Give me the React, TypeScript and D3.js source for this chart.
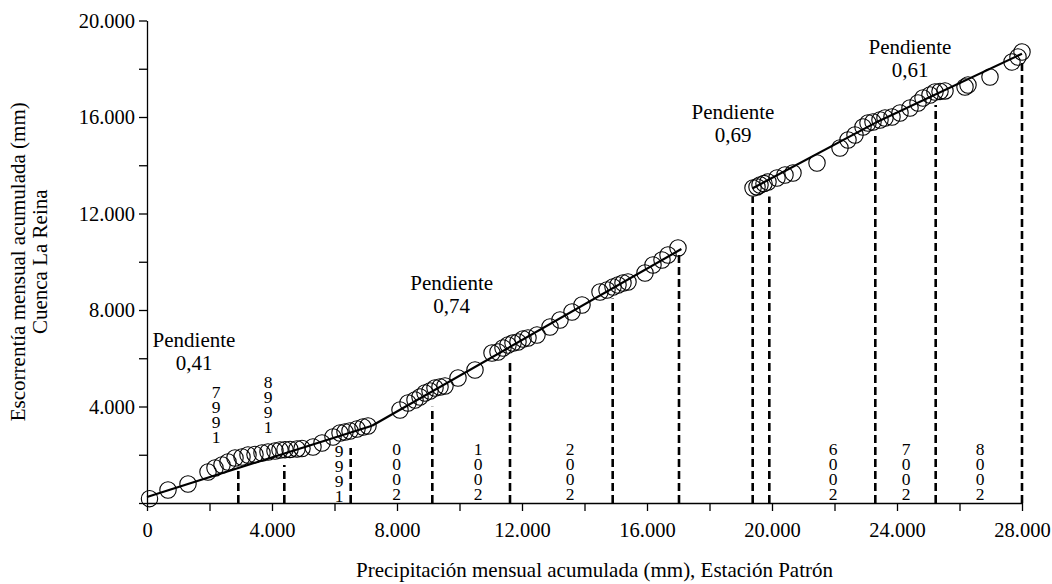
import React, { useEffect, useRef } from "react";
import * as d3 from "d3";

// Cumulative monthly precipitation (reference station) vs cumulative runoff (La Reina basin), mm
const precipAcum = [
  80, 672, 1312, 1952, 2176, 2400, 2592, 2816, 3040, 3232, 3456, 3680, 3872, 4096, 4256, 4416,
  4576, 4800, 4960, 5312, 5600, 5952, 6176, 6336, 6496, 6720, 6912, 7072,
  8096, 8352, 8576, 8736, 8896, 9056, 9216, 9376, 9536, 9952, 10496, 11040, 11232, 11392, 11552,
  11712, 11872, 12032, 12192, 12480, 12896, 13216, 13600, 13920, 14496, 14720, 14912, 15072,
  15232, 15392, 15936, 16192, 16480, 16672, 16992,
  19392, 19520, 19616, 19744, 19872, 20160, 20416, 20672, 21440, 22176, 22432, 22656, 22912,
  23072, 23232, 23456, 23616, 23840, 24096, 24416, 24672, 24832, 25056, 25216, 25376, 25536,
  26176, 26272, 26976, 27680, 27872, 28000,
];
const runoffAcum = [
  180, 539, 788, 1285, 1451, 1575, 1699, 1865, 1907, 1990, 2010, 2073, 2114, 2155, 2197, 2210,
  2220, 2240, 2260, 2321, 2487, 2736, 2902, 2943, 2984, 3067, 3150, 3192,
  3855, 4145, 4269, 4394, 4560, 4642, 4767, 4808, 4850, 5181, 5513, 6218, 6259, 6425, 6549,
  6632, 6673, 6798, 6839, 6964, 7295, 7585, 7917, 8207, 8746, 8829, 8953, 9036,
  9119, 9160, 9534, 9865, 10072, 10280, 10570,
  13057, 13100, 13181, 13240, 13305, 13471, 13596, 13679, 14093, 14715, 15046, 15254, 15585,
  15751, 15792, 15876, 15958, 16000, 16166, 16373, 16580, 16787, 16912, 17036, 17060, 17080,
  17243, 17326, 17658, 18280, 18487, 18694,
];

// Fitted straight segments: start x, end x, start y, slope
const trendX0 = [0, 7200, 19382, 23306];
const trendX1 = [7200, 17100, 23306, 28000];
const trendY0 = [250, 3202, 13050, 15758];
const trendSlope = [0.41, 0.74, 0.69, 0.61];

// Slope annotations (anchor of the first line, in data units)
const slopeLabelX = [1504, 9750, 18752, 24416];
const slopeLabelY = [6756, 9119, 16219, 18914];

// Year-end break markers
const breakX = [2922, 4394, 6518, 9130, 11616, 14902, 17024, 19382, 19914, 23306, 25238, 28000];
const breakTop = [1500, 1575, 2280, 3990, 5927, 8480, 10380, 12700, 12700, 15210, 16500, 18260];

// Year labels, written vertically
const yearLabels = ["1997", "1998", "1999", "2000", "2001", "2002", "2006", "2007", "2008"];
const yearLabelX = [2208, 3872, 6144, 7990, 10592, 13536, 21952, 24288, 26656];
const yearLabelBottom = [2748, 3163, 290, 390, 390, 390, 390, 390, 390];

const xTicks = d3.range(0, 28001, 2000);
const yTicks = d3.range(0, 20001, 2000);

const W = 1052;
const H = 584;
const FONT = "'Liberation Serif', 'Times New Roman', Times, 'DejaVu Serif', serif";

const locale = d3.formatLocale({ decimal: ",", thousands: ".", grouping: [3], currency: ["", ""] });
const fmtThousands = locale.format(",");
const fmtSlope = locale.format(".2f");

export default function App() {
  const xAxisRef = useRef<SVGGElement>(null);
  const yAxisRef = useRef<SVGGElement>(null);

  const x = d3.scaleLinear().domain([0, 28000]).range([147, 1022]);
  const y = d3.scaleLinear().domain([0, 20000]).range([503, 20.5]);

  useEffect(() => {
    const xAxis = d3
      .axisBottom(x)
      .tickValues(xTicks)
      .tickSize(8)
      .tickSizeOuter(0)
      .tickPadding(11)
      .tickFormat((d) => ((d as number) % 4000 === 0 ? fmtThousands(d as number) : ""));
    const yAxis = d3
      .axisLeft(y)
      .tickValues(yTicks)
      .tickSize(8)
      .tickSizeOuter(0)
      .tickPadding(4)
      .tickFormat((d) => ((d as number) % 4000 === 0 && d !== 0 ? fmtThousands(d as number) : ""));

    for (const [ref, axis] of [
      [xAxisRef, xAxis],
      [yAxisRef, yAxis],
    ] as const) {
      const g = d3.select(ref.current!);
      g.call(axis as any);
      g.attr("font-family", null).attr("font-size", null);
      g.selectAll("path.domain").attr("stroke", "#000").attr("stroke-width", 1.3);
      g.selectAll(".tick line").attr("stroke", "#000").attr("stroke-width", 1.3);
      g.selectAll(".tick text")
        .attr("fill", "#000")
        .style("font-family", FONT)
        .style("font-size", "20.5px");
    }
  }, []);

  const line = d3
    .line<[number, number]>()
    .x((d) => x(d[0]))
    .y((d) => y(d[1]));

  return (
    <svg
      width={W}
      height={H}
      style={{ position: "absolute", left: 0, top: 0, background: "#fff", fontFamily: FONT }}
    >
      {/* year break markers */}
      {breakX.map((bx, i) => (
        <line
          key={`b${i}`}
          x1={x(bx)}
          x2={x(bx)}
          y1={y(0)}
          y2={y(breakTop[i])}
          stroke="#000"
          strokeWidth={2.6}
          strokeDasharray="8,4"
        />
      ))}

      {/* observations */}
      {precipAcum.map((px, i) => (
        <circle
          key={`p${i}`}
          cx={x(px)}
          cy={y(runoffAcum[i])}
          r={8.2}
          fill="none"
          stroke="#000"
          strokeWidth={1.1}
        />
      ))}

      {/* fitted segments */}
      {trendX0.map((x0, i) => {
        const x1 = trendX1[i];
        const y0 = trendY0[i];
        const y1 = y0 + trendSlope[i] * (x1 - x0);
        return (
          <path
            key={`t${i}`}
            d={line([
              [x0, y0],
              [x1, y1],
            ])!}
            fill="none"
            stroke="#000"
            strokeWidth={2.2}
          />
        );
      })}

      {/* slope annotations */}
      {trendSlope.map((s, i) => (
        <text
          key={`s${i}`}
          x={x(slopeLabelX[i])}
          y={y(slopeLabelY[i])}
          textAnchor="middle"
          dominantBaseline="central"
          fontSize={21}
          style={{ fontFamily: FONT }}
        >
          <tspan x={x(slopeLabelX[i])}>Pendiente</tspan>
          <tspan x={x(slopeLabelX[i])} dy={23}>
            {fmtSlope(s)}
          </tspan>
        </text>
      ))}

      {/* vertical year labels, read bottom-up */}
      {yearLabels.map((yr, i) => {
        const chars = yr.split("").reverse();
        const n = chars.length;
        return (
          <g key={`y${i}`}>
            {chars.map((c, j) => (
              <text
                key={j}
                x={x(yearLabelX[i])}
                y={y(yearLabelBottom[i]) - (n - 1 - j) * 15}
                textAnchor="middle"
                dominantBaseline="central"
                fontSize={17.5}
                style={{ fontFamily: FONT }}
              >
                {c}
              </text>
            ))}
          </g>
        );
      })}

      <g ref={xAxisRef} transform={`translate(0,${y(0)})`} />
      <g ref={yAxisRef} transform={`translate(${x(0)},0)`} />

      {/* axis titles */}
      <text
        x={(x(0) + x(28000)) / 2 + 10}
        y={577}
        textAnchor="middle"
        fontSize={21}
        style={{ fontFamily: FONT }}
      >
        Precipitación mensual acumulada (mm), Estación Patrón
      </text>
      <text
        transform={`translate(18,${(y(0) + y(20000)) / 2}) rotate(-90)`}
        textAnchor="middle"
        dominantBaseline="central"
        fontSize={21}
        style={{ fontFamily: FONT }}
      >
        <tspan x={0} dy={0}>Escorrentía mensual acumulada (mm)</tspan>
        <tspan x={0} dy={22}>Cuenca La Reina</tspan>
      </text>
    </svg>
  );
}
